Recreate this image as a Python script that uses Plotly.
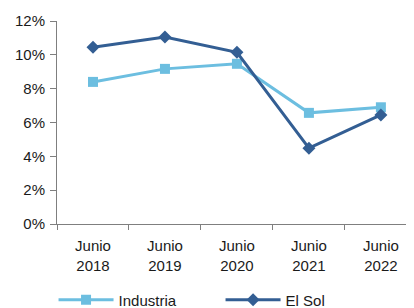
import plotly.graph_objects as go

categories = ["Junio<br>2018", "Junio<br>2019", "Junio<br>2020", "Junio<br>2021", "Junio<br>2022"]
industria = [0.084, 0.0917, 0.0947, 0.0657, 0.069]
el_sol = [0.1045, 0.1105, 0.1015, 0.0448, 0.0645]

fig = go.Figure()
fig.add_trace(go.Scatter(
    x=categories, y=industria, name="Industria", mode="lines+markers",
    line=dict(color="#6CBEE0", width=3),
    marker=dict(symbol="square", size=10, color="#6CBEE0"),
))
fig.add_trace(go.Scatter(
    x=categories, y=el_sol, name="El Sol", mode="lines+markers",
    line=dict(color="#335E93", width=3),
    marker=dict(symbol="diamond", size=10, color="#335E93"),
))

fig.update_layout(
    width=414, height=308,
    margin=dict(l=49, r=8, t=13, b=92, autoexpand=False),
    paper_bgcolor="white", plot_bgcolor="white",
    font=dict(family="Liberation Sans, Arial, sans-serif", size=15, color="#1a1a1a"),
    showlegend=True,
    legend=dict(
        orientation="h", xref="container", yref="container",
        x=0.11, y=0.052, xanchor="left", yanchor="middle",
        itemwidth=55, entrywidth=97, entrywidthmode="pixels",
        font=dict(size=15), bgcolor="rgba(0,0,0,0)",
    ),
    xaxis=dict(
        type="category", range=[-0.5, 4.46], automargin=False,
        showline=True, linecolor="#7f7f7f", linewidth=1,
        ticks="outside", tickson="boundaries", ticklen=5, tickcolor="#7f7f7f",
        ticklabelstandoff=8,
        showgrid=False, zeroline=False,
    ),
    yaxis=dict(
        range=[0, 0.12], dtick=0.02, tickformat=".0%", automargin=False,
        showline=True, linecolor="#7f7f7f", linewidth=1,
        ticks="outside", ticklen=6, tickcolor="#7f7f7f",
        ticklabelstandoff=2,
        showgrid=False, zeroline=False,
    ),
)

fig.write_html("out.html")
